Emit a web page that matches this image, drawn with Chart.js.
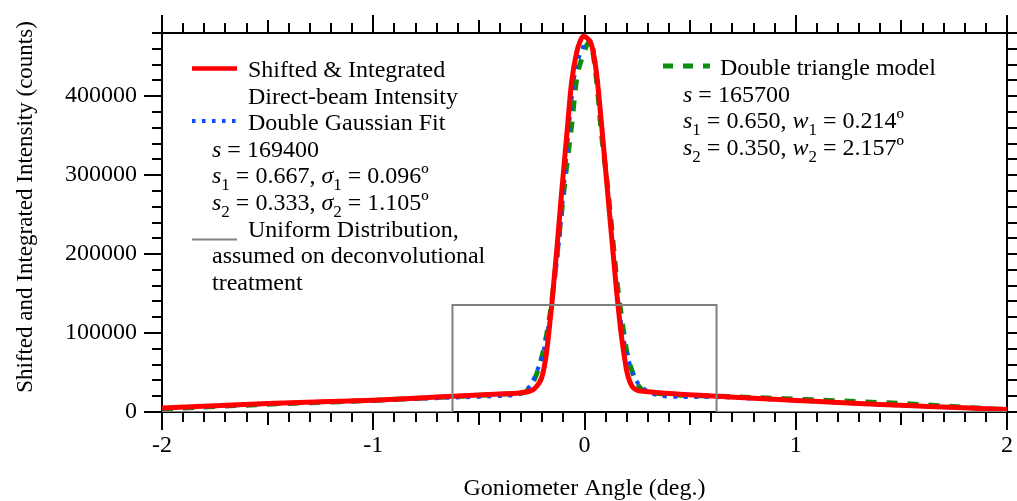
<!DOCTYPE html>
<html>
<head>
<meta charset="utf-8">
<script src="https://cdn.jsdelivr.net/npm/chart.js@4/dist/chart.umd.min.js"></script>
<style>
  html, body { margin: 0; padding: 0; background: #fff; }
  #wrap { width: 1017px; height: 501px; }
</style>
</head>
<body>
<div id="wrap"><canvas id="c" width="1017" height="501"></canvas></div>
<script>
// ---- data ----
const redX = [-2.0, -1.75, -1.5, -1.25, -1.0, -0.8, -0.62, -0.45, -0.30, -0.26, -0.242, -0.222, -0.203, -0.19, -0.179, -0.167, -0.155, -0.132, -0.108, -0.084, -0.061, -0.037, -0.02, -0.006, 0.01, 0.034, 0.058, 0.081, 0.105, 0.129, 0.152, 0.176, 0.19, 0.2, 0.215, 0.231, 0.255, 0.278, 0.35, 0.45, 0.626, 0.8, 1.004, 1.2, 1.4, 1.6, 1.793, 2.0];
const redY = [5000, 8000, 10700, 12900, 14900, 17500, 20000, 22300, 24500, 26300, 28400, 34000, 43200, 58000, 76800, 105000, 135800, 203100, 278900, 350500, 417800, 455700, 470000, 476000, 474000, 464200, 426300, 363200, 291500, 220000, 152600, 93700, 68000, 51500, 38000, 30600, 27200, 26300, 24300, 22600, 20000, 17400, 14700, 12000, 9500, 7300, 5300, 3300];

const blueX = [-2.0, -1.5, -1.0, -0.62, -0.5, -0.4, -0.35, -0.31, -0.282, -0.25, -0.219, -0.187, -0.16, -0.14, -0.116, -0.092, -0.069, -0.045, -0.021, 0.018, 0.042, 0.065, 0.089, 0.113, 0.136, 0.16, 0.184, 0.215, 0.247, 0.286, 0.32, 0.357, 0.452, 0.56, 0.66, 0.8, 1.0, 1.2, 1.4, 1.6, 1.8, 2.0];
const blueY = [4400, 10100, 14400, 18300, 19200, 20300, 21000, 22500, 26300, 36900, 55800, 85300, 127300, 169500, 228400, 304200, 375800, 430500, 453000, 470500, 460000, 412000, 342000, 270600, 203100, 140000, 93700, 60000, 38900, 28500, 23500, 20800, 19200, 19000, 18600, 16900, 14400, 11800, 9400, 7200, 5300, 3900];

const greenX = [-2.0, -1.5, -1.0, -0.62, -0.368, -0.30, -0.274, -0.234, -0.203, -0.171, -0.155, -0.132, -0.108, -0.085, -0.061, -0.037, -0.013, 0.025, 0.042, 0.061, 0.081, 0.105, 0.129, 0.152, 0.176, 0.2, 0.231, 0.263, 0.29, 0.33, 0.72, 1.13, 1.525, 1.92, 2.0];
const greenY = [3800, 9800, 14700, 19500, 22900, 24000, 26300, 43200, 68500, 110500, 140000, 194800, 253600, 310000, 363100, 422100, 447400, 469000, 451600, 409500, 350500, 295800, 232700, 169500, 119000, 76800, 47400, 30600, 26000, 24000, 19200, 14900, 10400, 4000, 3000];

const uniformX = [-2.0, -0.625, -0.625, 0.625, 0.625, 2.0];
const uniformY = [0, 0, 135500, 135500, 0, 0];

const xTickValues = [-2, -1, 0, 1, 2];
const yTickValues = [0, 100000, 200000, 300000, 400000];

const xTitle = 'Goniometer Angle (deg.)';
const yTitle = 'Shifted and Integrated Intensity (counts)';

const legendLeft = [
  'Shifted & Integrated',
  'Direct-beam Intensity',
  'Double Gaussian Fit',
  '{i:s} = 169400',
  '{i:s}{_:1} = 0.667, {i:σ}{_:1} = 0.096º',
  '{i:s}{_:2} = 0.333, {i:σ}{_:2} = 1.105º',
  'Uniform Distribution,',
  'assumed on deconvolutional',
  'treatment'
];
const legendRight = [
  'Double triangle model',
  '{i:s} = 165700',
  '{i:s}{_:1} = 0.650, {i:w}{_:1} = 0.214º',
  '{i:s}{_:2} = 0.350, {i:w}{_:2} = 2.157º'
];

// ---- styles ----
const RED = '#ff0000', BLUE = '#0a4cff', GREEN = '#0e8c0e', GRAY = '#808080';
const FONT = '"Liberation Serif", "Times New Roman", serif';

function pts(xs, ys) { return xs.map((v, i) => ({x: v, y: ys[i]})); }

function drawRich(ctx, x, y, str, size) {
  const re = /\{(i|_):([^}]*)\}|[^{]+/g;
  let m;
  while ((m = re.exec(str)) !== null) {
    let t, it = false, sub = false;
    if (m[1] === 'i') { t = m[2]; it = true; }
    else if (m[1] === '_') { t = m[2]; sub = true; }
    else { t = m[0]; }
    const fs = sub ? Math.round(size * 0.72) : size;
    ctx.font = (it ? 'italic ' : '') + fs + 'px ' + FONT;
    ctx.fillText(t, x, y + (sub ? size * 0.28 : 0));
    x += ctx.measureText(t).width;
  }
}

const framePlugin = {
  id: 'frame',
  beforeDatasetsDraw(chart) {
    const {ctx, chartArea: a, scales: {x, y}} = chart;
    ctx.save();
    ctx.strokeStyle = '#000';
    ctx.lineWidth = 2;
    ctx.beginPath();
    ctx.moveTo(a.left - 1, a.top); ctx.lineTo(a.right, a.top); ctx.lineTo(a.right, a.bottom + 1);
    ctx.stroke();
    for (let i = -20; i <= 20; i++) {
      const px = Math.round(x.getPixelForValue(i / 10));
      const len = (i % 10 === 0) ? 18 : (i % 5 === 0 ? 13 : 10);
      ctx.beginPath();
      ctx.moveTo(px, a.bottom); ctx.lineTo(px, a.bottom + len);
      ctx.moveTo(px, a.top); ctx.lineTo(px, a.top - len);
      ctx.stroke();
    }
    for (let k = 0; k <= 24; k++) {
      const py = Math.round(y.getPixelForValue(k * 20000));
      const len = (k % 5 === 0) ? 18 : 10;
      ctx.beginPath();
      ctx.moveTo(a.left, py); ctx.lineTo(a.left - len, py);
      ctx.moveTo(a.right, py); ctx.lineTo(a.right + len, py);
      ctx.stroke();
    }
    ctx.restore();
  },
  afterDraw(chart) {
    const ctx = chart.ctx;
    ctx.save();
    ctx.fillStyle = '#000';
    ctx.font = '23px ' + FONT;
    ctx.textAlign = 'center';
    ctx.textBaseline = 'middle';
    ctx.translate(26, 207);
    ctx.rotate(-Math.PI / 2);
    ctx.fillText(yTitle, 0, 0);
    ctx.restore();

    ctx.save();
    ctx.fillStyle = '#000';
    ctx.textAlign = 'left';
    ctx.textBaseline = 'alphabetic';
    const size = 24, lh = 26.6;
    const leftIndented = [0, 1, 2, 6];
    legendLeft.forEach((s, i) => drawRich(ctx, leftIndented.includes(i) ? 248 : 212, 77 + i * lh, s, size));
    legendRight.forEach((s, i) => drawRich(ctx, i === 0 ? 720 : 683, 75 + i * lh, s, size));
    function sample(x0, x1, yy, color, w, dash) {
      ctx.beginPath();
      ctx.setLineDash(dash);
      ctx.strokeStyle = color; ctx.lineWidth = w;
      ctx.moveTo(x0, yy); ctx.lineTo(x1, yy); ctx.stroke();
    }
    sample(192, 237, 68.5, RED, 4.5, []);
    sample(192, 237, 121, BLUE, 4, [3.5, 6.5]);
    sample(192, 237, 239.5, GRAY, 2, []);
    sample(663, 710, 66, GREEN, 5, [10, 10]);
    ctx.restore();
  }
};

new Chart(document.getElementById('c'), {
  type: 'line',
  data: {
    datasets: [
      { label: 'Uniform Distribution', data: pts(uniformX, uniformY), borderColor: GRAY, borderWidth: 2, pointRadius: 0, tension: 0, fill: false },
      { label: 'Shifted & Integrated Direct-beam Intensity', data: pts(redX, redY), borderColor: RED, borderWidth: 5, pointRadius: 0, cubicInterpolationMode: 'monotone', fill: false },
      { label: 'Double Gaussian Fit', data: pts(blueX, blueY), borderColor: BLUE, borderWidth: 4, borderDash: [4, 6.5], pointRadius: 0, cubicInterpolationMode: 'monotone', fill: false },
      { label: 'Double triangle model', data: pts(greenX, greenY), borderColor: GREEN, borderWidth: 5, borderDash: [11, 10], pointRadius: 0, cubicInterpolationMode: 'monotone', fill: false }
    ]
  },
  options: {
    responsive: false,
    animation: false,
    events: [],
    layout: { padding: { top: 33, right: 10, left: 0, bottom: 0 } },
    plugins: { legend: { display: false }, tooltip: { enabled: false } },
    scales: {
      x: {
        type: 'linear', position: 'bottom', min: -2, max: 2,
        afterFit(s) { s.height = 89; s.paddingLeft = 0; s.paddingRight = 0; },
        afterBuildTicks(s) { s.ticks = xTickValues.map(v => ({value: v})); },
        grid: { display: false, drawTicks: false },
        border: { display: true, color: '#000', width: 2 },
        ticks: { color: '#000', padding: 19, maxRotation: 0, font: { family: FONT, size: 24 }, callback: v => String(v) },
        title: { display: true, text: xTitle, color: '#000', font: { family: FONT, size: 24, lineHeight: 1 }, padding: { top: 0, bottom: 0 } }
      },
      y: {
        type: 'linear', position: 'left', min: 0, max: 480000,
        afterFit(s) { s.width = 162; s.paddingTop = 0; s.paddingBottom = 0; },
        afterBuildTicks(s) { s.ticks = yTickValues.map(v => ({value: v})); },
        grid: { display: false, drawTicks: false },
        border: { display: true, color: '#000', width: 2 },
        ticks: { color: '#000', padding: 25, font: { family: FONT, size: 24 }, callback: v => String(v) }
      }
    }
  },
  plugins: [framePlugin]
});
</script>
</body>
</html>
